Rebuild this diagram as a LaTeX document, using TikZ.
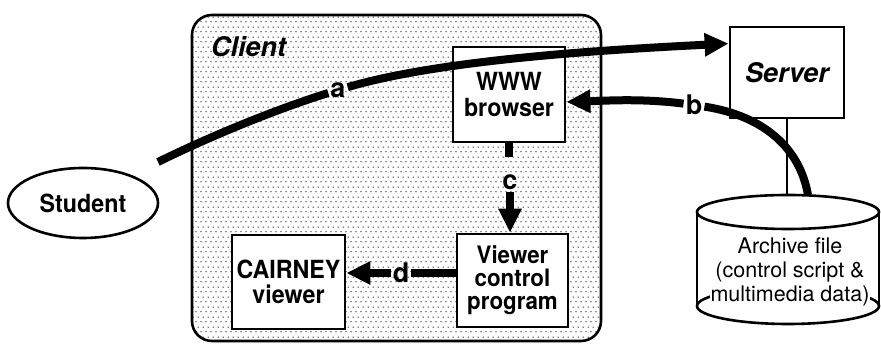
\documentclass[tikz,border=0pt]{standalone}
\usepackage{fontspec}
\setmainfont{TeX Gyre Heros}
\newfontfamily\narrowheros[FakeStretch=0.93]{TeX Gyre Heros}
\usetikzlibrary{arrows.meta,patterns.meta,shapes.geometric,calc}

% staggered stipple used as the shading of the client area
\tikzdeclarepattern{
  name=stipple,
  type=uncolored,
  bounding box={(0pt,0pt) and (5pt,10pt)},
  tile size={(5pt,10pt)},
  code={
    \fill (1.25pt,2.5pt) circle (0.75pt);
    \fill (3.75pt,7.5pt) circle (0.75pt);
  }
}

\begin{document}
\begin{tikzpicture}[x=1pt,y=1pt,
  boldtext/.style 2 args={font=\fontsize{#1}{#2}\selectfont\narrowheros\bfseries},
  box/.style={draw, line width=2.8pt, fill=white, align=center, inner sep=0pt},
  conn/.style={line width=8pt},
  arr/.style={line width=8pt, -{Triangle[length=24pt,width=22pt]}},
  lbl/.style={font=\fontsize{27}{27}\selectfont\bfseries, inner sep=2pt},
  thin/.style={line width=2.6pt},
]
\useasboundingbox (0,0) rectangle (881,344);

% client area
\node[draw, thin, rounded corners=20pt, pattern=stipple, pattern color=black,
  minimum width=409pt, minimum height=326pt, inner sep=0pt] (client) at (396.5,166) {};
\node[anchor=base west, inner sep=0pt,
  font=\fontsize{27}{27}\selectfont\bfseries\itshape] (clienttitle) at (211,287) {Client};

% actors and components
\node[ellipse, draw, thin, fill=white, minimum width=150pt, minimum height=70pt, inner sep=0pt,
  boldtext={25}{25}] (student) at (83,141) {Student};
\node[box, boldtext={25}{26}, minimum width=112pt, minimum height=95pt] (browser) at (509,249.5) {WWW\\browser};
\node[box, minimum width=114pt, minimum height=91pt,
  font=\fontsize{27}{27}\selectfont\bfseries\itshape] (server) at (787,271.5) {\raisebox{-3pt}{Server}};
\node[box, boldtext={24}{23}, minimum width=111pt, minimum height=93pt] (viewer) at (512.5,63.5) {Viewer\\control\\program};
\node[box, boldtext={25}{25}, minimum width=113pt, minimum height=94pt] (cairney) at (288.5,62) {CAIRNEY\\viewer};

% archive file drum
\fill[white] (697,132) -- (697,38) arc[start angle=180, end angle=360, x radius=91, y radius=18]
  -- (879,132) arc[start angle=0, end angle=180, x radius=91, y radius=17] -- cycle;
\draw[thin] (788,132) ellipse [x radius=91, y radius=17];
\draw[thin] (788,38) ellipse [x radius=91, y radius=18];
\draw[thin] (697,132) -- (697,38) (879,132) -- (879,38);
\node[fill=white, inner sep=1pt, align=center, font=\fontsize{21.5}{24}\selectfont]
  (archive) at (790,72) {Archive file\\(control script \&\\multimedia data)};
\coordinate (stemfoot) at (787,149);
\coordinate (bfoot) at (808,149);
\draw[line width=2pt] (server.south) -- (stemfoot);

% connector labels
\node[lbl] (alabel) at (338,254) {a};
\node[lbl] (blabel) at (694,239) {b};
\node[lbl] (clabel) at (510,162) {c};
\node[lbl] (dlabel) at (401,71) {d};

% a: student to server
\coordinate (astart) at (158,182);
\coordinate (atip) at ($(server.north west)+(0,-18)$);
\draw[conn] (astart) .. controls (215,210) and (280,236) .. (alabel);
\draw[arr] (alabel) .. controls (440,284) and (600,294) .. (atip);

% b: archive to browser
\coordinate (btip) at ($(browser.east)+(0,-7.5)$);
\draw[conn] (bfoot) .. controls (800,195) and (765,228) .. (blabel);
\draw[arr] (blabel) .. controls (640,246) and (600,243) .. (btip);

% c: browser to viewer control program
\coordinate (cstub) at (509,187);
\draw[conn] (browser.south) -- (cstub);
\draw[arr] (clabel.south) -- (clabel.south |- viewer.north);

% d: viewer control program to CAIRNEY viewer
\draw[conn] (viewer.west |- dlabel) -- (dlabel.east);
\draw[arr] (dlabel.west) -- (cairney.east |- dlabel);
\end{tikzpicture}
\end{document}
